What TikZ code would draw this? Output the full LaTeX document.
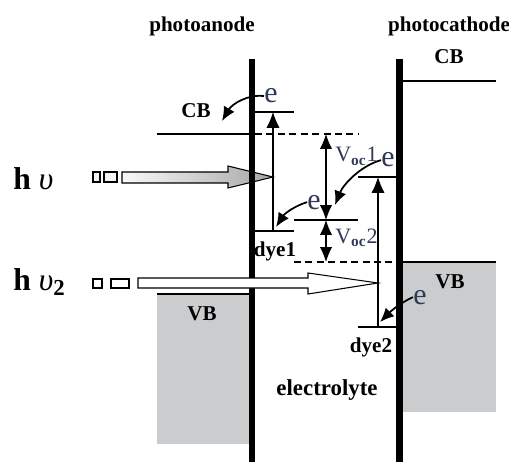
\documentclass[tikz,border=0pt]{standalone}
\usepackage{fontspec}
\setmainfont{Liberation Serif}
\usepackage{xcolor}
\usepackage{tikz}
\usetikzlibrary{arrows.meta,calc}
\definecolor{bandgray}{HTML}{CBCCCE}
\definecolor{ink}{HTML}{2C3A55}

\begin{document}
\begin{tikzpicture}[
    x=0.02cm, y=-0.02cm,
    lbl/.style={font=\fontsize{12}{14}\selectfont\bfseries,inner sep=0pt,anchor=base},
    elec/.style={font=\fontsize{17}{19}\selectfont,text=ink,inner sep=0pt,anchor=base},
    volt/.style={font=\fontsize{12.5}{14}\selectfont,text=ink,inner sep=0pt,anchor=base west},
    photon/.style={font=\fontsize{18}{20}\selectfont,inner sep=0pt,anchor=base west},
    lvl/.style={line width=0.6pt},
    dsh/.style={line width=0.6pt,dash pattern=on 4pt off 2.5pt},
    arr/.style={-{Latex[length=9pt,width=7.5pt]},line width=0.6pt},
    darr/.style={{Latex[length=8.5pt,width=7pt]}-{Latex[length=8.5pt,width=7pt]},line width=0.6pt},
    hop/.style={-{Latex[length=8pt,width=7pt]},line width=1pt},
    box/.style={draw,line width=0.6pt,fill=gray!8},
  ]
  \useasboundingbox (0,0) rectangle (509,462);

  \node[lbl] (anode) at (202,32) {photoanode};
  \node[lbl] (cathode) at (449,32) {photocathode};

  \node[photon] (hv1) at (13,190) {\textbf{h} \textit{υ}};
  \node[photon] (hv2) at (13,290) {\textbf{h} \textit{υ}\raisebox{-3pt}{\fontsize{13}{13}\selectfont\bfseries 2}};

  \draw[box] (93,172) rectangle (100,182);
  \draw[box] (104,172) rectangle (117,182);
  \draw[line width=0.6pt,left color=gray!5,right color=gray!70]
    (122,172) -- (228,172) -- (228,166) -- (273,177) -- (228,188) -- (228,183) -- (122,183) -- cycle;

  \fill[bandgray] (157,294) rectangle (249,444);
  \draw[lvl] (157,294) -- (249,294);
  \fill[bandgray] (402,262) rectangle (496,412);
  \draw[lvl] (402,262) -- (496,262);

  \fill (248.5,59) rectangle (255,462);
  \fill (396,59) rectangle (402.5,462);

  \draw[box,fill=white] (93,279) rectangle (102,288);
  \draw[box,fill=white] (111,279) rectangle (129,288);
  \draw[line width=0.6pt,fill=white]
    (138,278) -- (308,278) -- (308,273) -- (378,283) -- (308,294) -- (308,288) -- (138,288) -- cycle;

  \draw[lvl] (402.5,81) -- (496,81);
  \draw[lvl] (157,134) -- (248.5,134);
  \draw[dsh] (255,134) -- (358,134);
  \draw[lvl] (255,112) -- (294,112);
  \draw[lvl] (255,231) -- (294,231);
  \draw[lvl] (294,220) -- (358,220);
  \draw[dsh] (294,262) -- (396,262);
  \draw[lvl] (358,177) -- (396,177);
  \draw[lvl] (358,327) -- (396,327);

  \coordinate (d1top) at (273,112);
  \coordinate (d1bot) at (273,231);
  \coordinate (d2top) at (378,177);
  \coordinate (d2bot) at (378,327);
  \coordinate (cbA) at (326,134);
  \coordinate (mid) at (326,220);
  \coordinate (vbC) at (326,262);
  \draw[arr] (d1bot) -- (d1top);
  \draw[arr] (d2bot) -- (d2top);
  \draw[darr] (cbA) -- (mid);
  \draw[darr] (mid) -- (vbC);

  \node[lbl] (cbC) at (449,64) {CB};
  \node[lbl] (cbAn) at (196,118) {CB};
  \node[lbl] (vbAn) at (202,320) {VB};
  \node[lbl] (vbCa) at (450,288) {VB};
  \node[lbl] (dye1) at (275,256) {dye1};
  \node[lbl] (dye2) at (371,352) {dye2};
  \node[lbl,font=\fontsize{13}{15}\selectfont\bfseries] (elyte) at (327,395) {electrolyte};

  \node[volt] (voc1) at (335,162) {V\textsubscript{\bfseries oc}1};
  \node[volt] (voc2) at (335,243) {V\textsubscript{\bfseries oc}2};

  \node[elec] (e1) at (271,103) {e};
  \node[elec] (e2) at (314,209) {e};
  \node[elec] (e3) at (388,167) {e};
  \node[elec] (e4) at (420,304) {e};

  \coordinate (cbAin) at (222,121);
  \coordinate (d1hop) at (276,227);
  \coordinate (midhop) at (335,205);
  \coordinate (d2hop) at (380,322);
  \draw[hop] (e1.west) .. controls (248,94) and (232,104) .. (cbAin);
  \draw[hop] (e2.west) .. controls (295,206) and (285,213) .. (d1hop);
  \draw[hop] (e3.west) .. controls (360,166) and (343,185) .. (midhop);
  \draw[hop] (e4.west) .. controls (402,302) and (392,310) .. (d2hop);
\end{tikzpicture}
\end{document}
